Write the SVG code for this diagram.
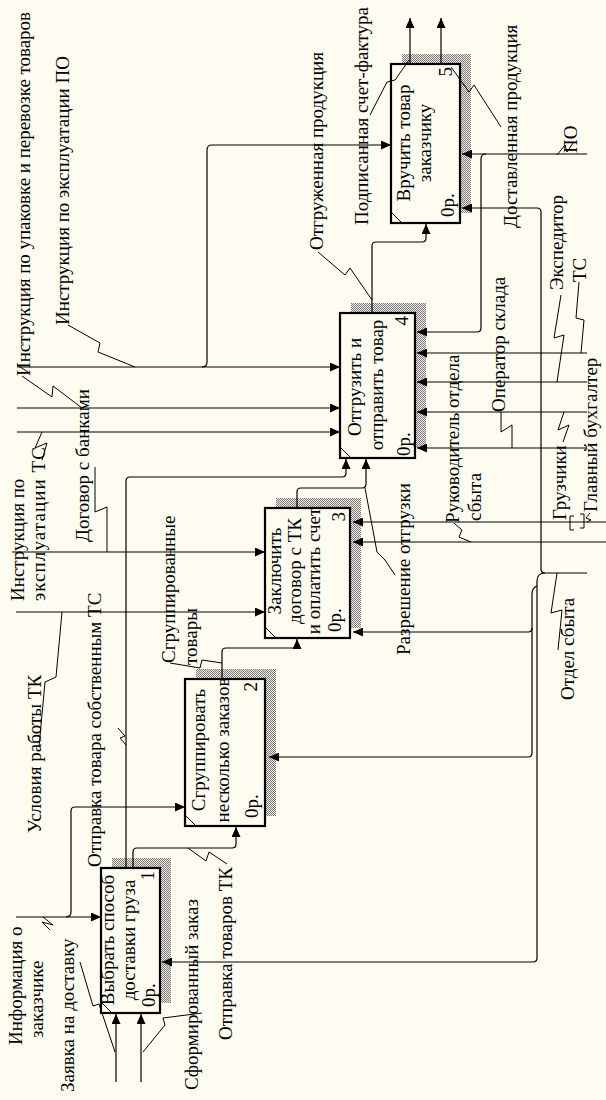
<svg xmlns="http://www.w3.org/2000/svg" width="606" height="1100" viewBox="0 0 606 1100">
<style>
text{font-family:"Liberation Serif","Times New Roman",serif;font-size:19px;fill:#000}
.box{fill:#fefbf0;stroke:#000;stroke-width:2.2}
.sh{fill:url(#hatch)}
.ln{fill:none;stroke:#000;stroke-width:1.2}
.sq{fill:none;stroke:#000;stroke-width:1}
.mid{text-anchor:middle}
.end{text-anchor:end}
</style>
<defs>
<pattern id="hatch" width="2" height="2" patternUnits="userSpaceOnUse">
<rect width="2" height="2" fill="#efede4"/>
<rect width="1" height="1" fill="#7a7a7a"/>
<rect x="1" y="1" width="1" height="1" fill="#7a7a7a"/>
</pattern>
<marker id="ah" markerWidth="10" markerHeight="9" refX="10" refY="4.5" orient="auto" markerUnits="userSpaceOnUse">
<path d="M0,0 L10,4.5 L0,9 z" fill="#000"/>
</marker>
<clipPath id="c1"><rect x="101" y="868" width="59" height="145"/></clipPath>
<clipPath id="c2"><rect x="185" y="679" width="80" height="147"/></clipPath>
<clipPath id="c3"><rect x="265" y="508" width="85" height="130"/></clipPath>
<clipPath id="c4"><rect x="340" y="313" width="75" height="145"/></clipPath>
<clipPath id="c5"><rect x="391" y="64" width="69" height="159"/></clipPath>
</defs>
<rect width="606" height="1100" fill="#fefbf0"/>

<g id="node1">
<rect class="sh" x="112" y="858" width="59" height="145"/>
<rect class="box" x="101" y="868" width="59" height="145"/>
<line class="sq" x1="101" y1="1002" x2="112" y2="1013"/>
<g clip-path="url(#c1)">
<text class="mid" transform="translate(114,940) rotate(-90)">Выбрать способ</text>
<text class="mid" transform="translate(135,940) rotate(-90)">доставки груза</text>
</g>
<text transform="translate(155,1007) rotate(-90)">0р.</text>
<text class="end" transform="translate(154,871) rotate(-90)">1</text>
</g>

<g id="node2">
<rect class="sh" x="196" y="669" width="80" height="147"/>
<rect class="box" x="185" y="679" width="80" height="147"/>
<line class="sq" x1="185" y1="815" x2="196" y2="826"/>
<g clip-path="url(#c2)">
<text class="mid" transform="translate(205,750) rotate(-90)">Сгруппировать</text>
<text class="mid" transform="translate(229,750) rotate(-90)">несколько заказов</text>
</g>
<text transform="translate(258,818) rotate(-90)">0р.</text>
<text class="end" transform="translate(257,682) rotate(-90)">2</text>
</g>

<g id="node3">
<rect class="sh" x="276" y="498" width="85" height="130"/>
<rect class="box" x="265" y="508" width="85" height="130"/>
<line class="sq" x1="265" y1="627" x2="276" y2="638"/>
<g clip-path="url(#c3)">
<text class="mid" transform="translate(281,571) rotate(-90)">Заключить</text>
<text class="mid" transform="translate(301,571) rotate(-90)">договор с ТК</text>
<text class="mid" transform="translate(320,571) rotate(-90)">и оплатить счет</text>
</g>
<text transform="translate(341,632) rotate(-90)">0р.</text>
<text class="end" transform="translate(345,512) rotate(-90)">3</text>
</g>

<g id="node4">
<rect class="sh" x="351" y="303" width="75" height="145"/>
<rect class="box" x="340" y="313" width="75" height="145"/>
<line class="sq" x1="340" y1="447" x2="351" y2="458"/>
<g clip-path="url(#c4)">
<text class="mid" transform="translate(361,387) rotate(-90)">Отгрузить и</text>
<text class="mid" transform="translate(383,385) rotate(-90)">отправить товар</text>
</g>
<text transform="translate(410,456) rotate(-90)">0р.</text>
<text class="end" transform="translate(408,316) rotate(-90)">4</text>
</g>

<g id="node5">
<rect class="sh" x="402" y="54" width="69" height="159"/>
<rect class="box" x="391" y="64" width="69" height="159"/>
<line class="sq" x1="391" y1="212" x2="402" y2="223"/>
<g clip-path="url(#c5)">
<text class="mid" transform="translate(410,143) rotate(-90)">Вручить товар</text>
<text class="mid" transform="translate(431,143) rotate(-90)">заказчику</text>
</g>
<text transform="translate(454,217) rotate(-90)">0р.</text>
<text class="end" transform="translate(452,67) rotate(-90)">5</text>
</g>

<g id="connectors">
<path class="ln" marker-end="url(#ah)" d="M18,367 H340"/>
<path class="ln" marker-end="url(#ah)" d="M202,367 Q207,367 207,362 V150 Q207,145 212,145 H391"/>
<path class="ln" marker-end="url(#ah)" d="M17,408 H340"/>
<path class="ln" marker-end="url(#ah)" d="M17,432 H340"/>
<path class="ln" marker-end="url(#ah)" d="M12,552 H265"/>
<path class="ln" marker-end="url(#ah)" d="M16,612 H265"/>
<path class="ln" marker-end="url(#ah)" d="M16,917 H101"/>
<path class="ln" marker-end="url(#ah)" d="M66,917 Q71,917 71,912 V811 Q71,807 75,807 H185"/>
<path class="ln" marker-end="url(#ah)" d="M126,868 V481 Q126,477 130,477 H342 Q346,477 346,473 V459"/>
<path class="ln" marker-end="url(#ah)" d="M133,868 V852 Q133,848 137,848 H232 Q236,848 236,844 V827"/>
<path class="ln" marker-end="url(#ah)" d="M222,679 V652 Q222,648 226,648 H293 Q297,648 297,644 V639"/>
<path class="ln" marker-end="url(#ah)" d="M297,508 V492 Q297,488 301,488 H362 Q366,488 366,484 V459"/>
<path class="ln" marker-end="url(#ah)" d="M372,313 V246 Q372,242 376,242 H422 Q426,242 426,238 V224"/>
<path class="ln" marker-end="url(#ah)" d="M410,64 V18"/>
<path class="ln" marker-end="url(#ah)" d="M441,64 V18"/>
<path class="ln" marker-end="url(#ah)" d="M116,1082 V1014"/>
<path class="ln" marker-end="url(#ah)" d="M141,1082 V1014"/>
<path class="ln" marker-end="url(#ah)" d="M587,154 H462"/>
<path class="ln" marker-end="url(#ah)" d="M486,154 Q481,154 481,159 V328 Q481,332 477,332 H417"/>
<path class="ln" marker-end="url(#ah)" d="M587,353 H417"/>
<path class="ln" marker-end="url(#ah)" d="M587,382 H417"/>
<path class="ln" marker-end="url(#ah)" d="M587,412 H417"/>
<path class="ln" marker-end="url(#ah)" d="M587,448 H417"/>
<path class="ln" marker-end="url(#ah)" d="M606,522 H353"/>
<path class="ln" marker-end="url(#ah)" d="M606,542 H353"/>
<path class="ln" marker-end="url(#ah)" d="M587,573 H545 Q541,573 541,569 V212 Q541,208 537,208 H462"/>
<path class="ln" marker-end="url(#ah)" d="M545,573 Q537,573 537,581 V958 Q537,962 533,962 H162"/>
<path class="ln" marker-end="url(#ah)" d="M537,586 Q532,588 532,594 V753 Q532,757 528,757 H269"/>
<path class="ln" marker-end="url(#ah)" d="M532,628 Q532,632 528,632 H353"/>
<path class="sq" d="M574,516 H570 V530 H574 M580,514 H584 V528 H580"/>
<polyline class="sq" points="22,376 52,397 53,386 82,408"/>
<polyline class="sq" points="68,325 100,343 98,352 135,367"/>
<polyline class="sq" points="42,432 35,448 47,443 42,460"/>
<polyline class="sq" points="95,467 95,512 107,507 107,552"/>
<polyline class="sq" points="39,747 45,682 56,677 62,612"/>
<polyline class="sq" points="118,728 125,736 120,738 126,745"/>
<polyline class="sq" points="43,917 53,925 42,922 50,930"/>
<polyline class="sq" points="80,962 93,1006 99,1004 115,1052"/>
<polyline class="sq" points="202,1013 163,1018 165,1025 143,1052"/>
<polyline class="sq" points="227,864 209,852 206,861 188,848"/>
<polyline class="sq" points="170,663 200,668 202,660 222,663"/>
<polyline class="sq" points="395,575 385,560 377,552 365,488"/>
<polyline class="sq" points="318,252 345,275 350,268 372,300"/>
<polyline class="sq" points="370,115 387,82 395,80 409,60"/>
<polyline class="sq" points="501,127 474,85 469,92 451,67"/>
<polyline class="sq" points="557,155 565,145 567,152 573,143"/>
<polyline class="sq" points="557,573 551,613 562,610 558,650"/>
<polyline class="sq" points="561,295 554,338 564,335 557,382"/>
<polyline class="sq" points="579,282 576,318 584,320 581,353"/>
<polyline class="sq" points="501,412 501,432 512,425 512,448"/>
<polyline class="sq" points="564,412 558,430 569,425 563,442"/>
<polyline class="sq" points="454,523 462,530 459,537 471,542"/>
<polyline class="sq" points="590,513 586,518 591,520 587,522"/>
</g>

<g id="labels">
<text transform="translate(30,376) rotate(-90)" textLength="364" lengthAdjust="spacing">Инструкция по упаковке и перевозке товаров</text>
<text transform="translate(69,325) rotate(-90)">Инструкция по эксплуатации ПО</text>
<text transform="translate(24,601) rotate(-90)">Инструкция по</text>
<text transform="translate(45,601) rotate(-90)" textLength="154" lengthAdjust="spacing">эксплуатации ТС</text>
<text transform="translate(89,542) rotate(-90)">Договор с банками</text>
<text transform="translate(41,833) rotate(-90)">Условия работы ТК</text>
<text transform="translate(101,867) rotate(-90)">Отправка товара собственным ТС</text>
<text transform="translate(175,663) rotate(-90)">Сгруппированные</text>
<text transform="translate(197,665) rotate(-90)">товары</text>
<text transform="translate(232,1040) rotate(-90)">Отправка товаров ТК</text>
<text transform="translate(74,1092) rotate(-90)">Заявка на доставку</text>
<text transform="translate(198,1090) rotate(-90)">Сформированный заказ</text>
<text transform="translate(22,1045) rotate(-90)">Информация о</text>
<text transform="translate(43,1038) rotate(-90)">заказчике</text>
<text transform="translate(410,655) rotate(-90)">Разрешение отгрузки</text>
<text transform="translate(459,523) rotate(-90)">Руководитель отдела</text>
<text transform="translate(481,521) rotate(-90)">сбыта</text>
<text transform="translate(505,412) rotate(-90)">Оператор склада</text>
<text transform="translate(566,520) rotate(-90)">Грузчики</text>
<text transform="translate(597,512) rotate(-90)">Главный бухгалтер</text>
<text transform="translate(563,290) rotate(-90)">Экспедитор</text>
<text transform="translate(586,282) rotate(-90)">ТС</text>
<text transform="translate(577,153) rotate(-90)">ПО</text>
<text transform="translate(574,700) rotate(-90)">Отдел сбыта</text>
<text transform="translate(323,250) rotate(-90)">Отгруженная продукция</text>
<text transform="translate(368,225) rotate(-90)">Подписанная счет-фактура</text>
<text transform="translate(517,228) rotate(-90)">Доставленная продукция</text>
</g>
</svg>
